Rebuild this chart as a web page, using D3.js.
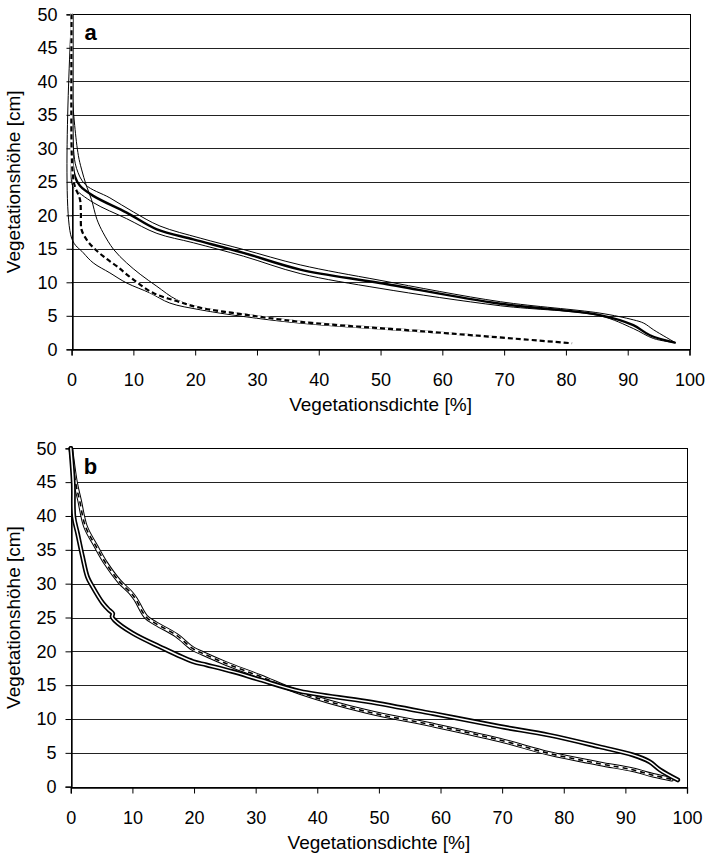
<!DOCTYPE html>
<html>
<head>
<meta charset="utf-8">
<script src="https://cdn.jsdelivr.net/npm/d3@7"></script>
<style>
  html, body { margin: 0; padding: 0; background: #fff; }
  svg { display: block; font-family: "Liberation Sans", Arial, sans-serif; }
</style>
</head>
<body>
<svg id="chart" width="707" height="854"></svg>
<script>
// ---------- data (density %, height cm) ----------
const xTicks = [0, 10, 20, 30, 40, 50, 60, 70, 80, 90, 100];
const yTicks = [0, 5, 10, 15, 20, 25, 30, 35, 40, 45, 50];
const xTitle = "Vegetationsdichte [%]";
const yTitle = "Vegetationshöhe [cm]";

// Panel a – upper bundle (mean, upper and lower bound)
const aUpperMean = [[0,50],[0,35],[0.1,29],[0.2,27.4],[0.5,25.9],[1.35,24.4],[3.5,22.9],[8.9,20.4],[13.8,17.9],[19.7,16.4],[27.8,14.4],[37,11.9],[49.9,9.9],[69.4,6.8],[85.5,5.1],[90.9,3.6],[93.6,2.1],[97.6,1.0]];
const aUpperHigh = [[0,50],[0,40],[0.3,30],[0.8,27],[2.2,24.6],[6.2,22.6],[10,20.5],[14.3,18.4],[20.8,16.6],[27.8,14.9],[37,12.6],[49.9,10.3],[69.4,7.1],[85.5,5.4],[90.9,4.4],[92.6,3.9],[94.2,2.9],[97.7,1.0]];
const aUpperLow  = [[0,50],[0,30],[0,25],[0.3,24.2],[3.5,21.9],[8.9,19.5],[13.8,17.3],[19.7,15.9],[27.8,13.9],[37,11.3],[49.9,9.1],[69.4,6.5],[85.5,5.0],[90.9,3.1],[94.2,1.6],[97.6,1.0]];
// Panel a – lower bundle
const aLowerMean = [[0,50],[0,30],[0.2,26],[0.5,24.4],[1.35,22.4],[1.5,20.4],[1.6,17.9],[2.4,16.4],[3.5,15.2],[5.1,13.9],[7.3,12.4],[10,10.4],[13.2,8.4],[17,7.2],[20.8,6.2],[27.8,5.2],[37,4.1],[58,2.6],[81,0.9]];
const aLowerHigh = [[0,50],[0,40],[0.5,33.4],[1.1,28.9],[1.6,26.9],[2.4,24.4],[3.2,22.4],[4.1,19.4],[5.1,17.4],[6.8,14.9],[8.9,12.9],[11.1,11.2],[13.8,9.4],[17,7.4],[20.8,6.3],[27.8,5.3],[37,4.2],[58,2.7],[81,0.9]];
const aLowerLow  = [[0,50],[0,16.6],[1.9,14.4],[3.5,12.9],[6.2,11.4],[8.9,9.9],[12.7,8.4],[15.9,6.9],[20.8,5.9],[27.8,4.9],[37,3.9],[58,2.5],[81,0.9]];

// Panel b
const bSolid  = [[0,50],[0.4,44.8],[0.5,39.9],[1.1,37.4],[1.9,34],[2.7,31],[3.5,29.6],[5.2,27.1],[6.2,26.1],[6.8,25.6],[6.7,25.1],[7.1,24.6],[10,22.7],[14.4,20.7],[19.8,18.5],[22,18],[26.3,17],[30.7,15.8],[37.2,14.1],[48,12.6],[58.8,10.8],[69.6,8.9],[77.7,7.6],[85.8,5.9],[91.2,4.7],[93.9,3.7],[95.6,2.5],[98.5,1.0]];
const bDashed = [[0,50],[0.8,44.8],[1.4,42.4],[2.4,38.4],[4.1,35.5],[5.7,33],[7.9,30.3],[9.8,28.6],[10.6,27.6],[12.2,25.1],[13.8,24.1],[17.1,22.4],[19.8,20.4],[21.4,19.7],[25.2,18.2],[30.7,16.3],[37.2,13.9],[48,11.1],[58.8,9.1],[69.6,6.9],[77.7,4.9],[85.8,3.4],[91.2,2.5],[94.5,1.7],[97.5,1.1]];

// ---------- drawing ----------
const svg = d3.select("#chart");

function panel(cfg) {
  const x = d3.scaleLinear().domain([0, 100]).range([cfg.x0, cfg.x1]);
  const y = d3.scaleLinear().domain([0, 50]).range([cfg.y0, cfg.y1]);
  const g = svg.append("g");

  // gridlines
  g.append("g").selectAll("line").data(yTicks.filter(t => t > 0 && t < 50)).join("line")
    .attr("x1", cfg.x0).attr("x2", cfg.x1)
    .attr("y1", d => Math.round(y(d)) + 0.5).attr("y2", d => Math.round(y(d)) + 0.5)
    .attr("stroke", "#222").attr("stroke-width", 1);

  // plot frame
  g.append("rect")
    .attr("x", Math.round(cfg.x0) + 0.5).attr("y", Math.round(cfg.y1) + 0.5)
    .attr("width", Math.round(cfg.x1) - Math.round(cfg.x0)).attr("height", Math.round(cfg.y0) - Math.round(cfg.y1))
    .attr("fill", "none").attr("stroke", "#000").attr("stroke-width", 1);

  // axes
  const ax = g.append("g").attr("transform", `translate(0,${Math.round(cfg.y0) + 0.5})`)
    .call(d3.axisBottom(x).tickValues(xTicks).tickSize(6).tickPadding(18).tickFormat(d3.format("d")));
  const ay = g.append("g").attr("transform", `translate(${Math.round(cfg.x0) + 0.5},0)`)
    .call(d3.axisLeft(y).tickValues(yTicks).tickSize(6).tickPadding(9).tickFormat(d3.format("d")));
  [ax, ay].forEach(a => {
    a.select(".domain").attr("stroke", "#000").attr("stroke-width", 1.3);
    a.selectAll(".tick line").attr("stroke", "#000").attr("stroke-width", 1);
    a.selectAll("text").attr("font-size", 18).attr("fill", "#000")
      .attr("font-family", "Liberation Sans, Arial, sans-serif");
  });

  // titles
  g.append("text").attr("x", (cfg.x0 + cfg.x1) / 2).attr("y", cfg.y0 + 62)
    .attr("text-anchor", "middle").attr("font-size", 19).text(xTitle);
  g.append("text")
    .attr("transform", `translate(20,${(cfg.y0 + cfg.y1) / 2}) rotate(-90)`)
    .attr("text-anchor", "middle").attr("font-size", 19).text(yTitle);
  g.append("text").attr("x", cfg.x0 + 13).attr("y", cfg.y1 + 26)
    .attr("font-size", 22).attr("font-weight", "bold").text(cfg.label);

  const line = d3.line().x(d => x(d[0])).y(d => y(d[1])).curve(d3.curveCatmullRom.alpha(0.5));
  const lg = g.append("g").attr("fill", "none").attr("stroke-linejoin", "round").attr("stroke-linecap", "round");
  cfg.series.forEach(s => {
    (s.strokes).forEach(st => {
      lg.append("path").datum(s.data).attr("d", line)
        .attr("stroke", st.color).attr("stroke-width", st.width)
        .attr("stroke-dasharray", st.dash || null)
        .attr("stroke-linecap", st.dash ? "butt" : "round");
    });
  });
}

const thin = [{ color: "#000", width: 1 }];
const thick = [{ color: "#000", width: 2.4 }];
const dashed = [{ color: "#fff", width: 2.6 }, { color: "#000", width: 2.2, dash: "5,3" }];

panel({
  x0: 71.6, x1: 689.5, y0: 349.3, y1: 14.3, label: "a",
  series: [
    { data: aUpperHigh, strokes: thin },
    { data: aUpperLow, strokes: thin },
    { data: aUpperMean, strokes: thick },
    { data: aLowerHigh, strokes: thin },
    { data: aLowerLow, strokes: thin },
    { data: aLowerMean, strokes: dashed }
  ]
});

panel({
  x0: 70.8, x1: 687, y0: 786.7, y1: 448.3, label: "b",
  series: [
    { data: bDashed, strokes: [{ color: "#000", width: 4.6 }, { color: "#fff", width: 2.6 }, { color: "#000", width: 1.6, dash: "5,4" }] },
    { data: bSolid, strokes: [{ color: "#000", width: 4.8 }, { color: "#fff", width: 1.5 }] }
  ]
});
</script>
</body>
</html>
